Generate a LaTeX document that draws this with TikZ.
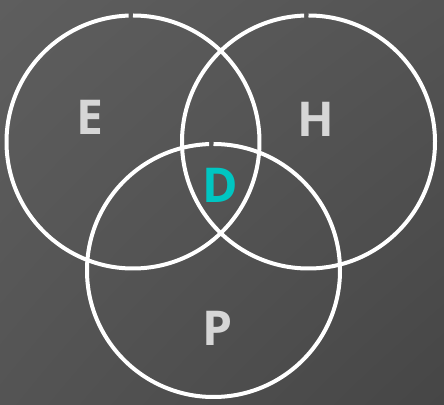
\documentclass[tikz,border=0pt]{standalone}
\usepackage{fontspec}
\usetikzlibrary{shadings}
\setsansfont{Open Sans}
\definecolor{labelgray}{HTML}{D6D6D6}
\definecolor{teal}{HTML}{00C6C2}
\definecolor{bgA}{HTML}{5E5E5E}
\definecolor{bgB}{HTML}{545454}
\definecolor{bgC}{HTML}{464646}
\tikzset{
  ring/.style={draw=white, line width=4pt},
  setlabel/.style={font=\sffamily\bfseries\fontsize{48}{48}\selectfont, text=labelgray, inner sep=0pt}
}
\begin{document}
\begin{tikzpicture}[x=1pt,y=1pt]
    % Background
    \shade[upper left=bgA, upper right=bgB, lower left=bgB, lower right=bgC]
        (0,0) rectangle (444,404);
    \useasboundingbox (0,0) rectangle (444,404);

    % Circle centres
    \coordinate (cE) at (133,262);
    \coordinate (cH) at (308.5,262);
    \coordinate (cP) at (213.5,133.5);

    % Circles (small gap at the top)
    \draw[ring] (cE) ++(92:126.5pt) arc[start angle=92, end angle=450, radius=126.5pt];
    \draw[ring] (cH) ++(92:126.5pt) arc[start angle=92, end angle=450, radius=126.5pt];
    \draw[ring] (cP) ++(92:126.5pt) arc[start angle=92, end angle=450, radius=126.5pt];

    % Labels
    \node[setlabel] (E) at (89.5,286.5) {E};
    \node[setlabel] (H) at (316,285) {H};
    \node[setlabel] (P) at (218,76) {P};
    \node[setlabel, text=teal] (D) at (220,219) {D};
\end{tikzpicture}
\end{document}
